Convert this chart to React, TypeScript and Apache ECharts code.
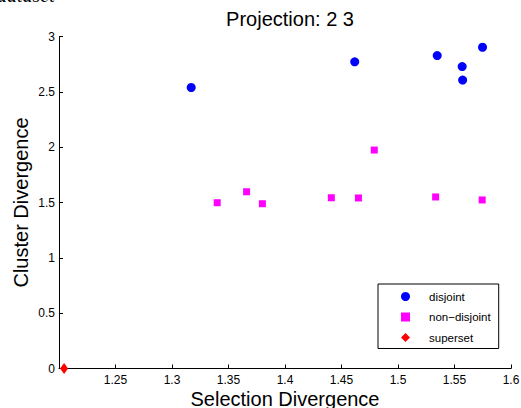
import React, { useEffect, useRef } from "react";
import * as echarts from "echarts";

const disjointX = [1.317, 1.4617, 1.5347, 1.5568, 1.5572, 1.5748];
const disjointY = [2.539, 2.771, 2.828, 2.728, 2.606, 2.903];

const nonDisjointX = [1.340, 1.366, 1.380, 1.441, 1.465, 1.479, 1.5333, 1.5745];
const nonDisjointY = [1.498, 1.597, 1.489, 1.543, 1.541, 1.974, 1.550, 1.523];

const supersetX = [1.2045];
const supersetY = [0];

const seriesNames = ["disjoint", "non\u2212disjoint", "superset"];
const xTicks = { min: 1.2, max: 1.6, interval: 0.05 };
const yTicks = { min: 0, max: 3, interval: 0.5 };

const zip = (xs: number[], ys: number[]) => xs.map((x, i) => [x, ys[i]]);

export default function App() {
  const ref = useRef<HTMLDivElement>(null);
  useEffect(() => {
    document.body.style.margin = "0";
    const chart = echarts.init(ref.current!, null, { renderer: "svg" });
    const font = "Liberation Sans, Arial, sans-serif";
    chart.setOption({
      animation: false,
      backgroundColor: "#ffffff",
      textStyle: { fontFamily: font },
      title: {
        text: "Projection: 2 3",
        left: 285,
        textAlign: "center",
        top: 4,
        textStyle: { fontSize: 20, fontWeight: "normal", color: "#000", fontFamily: font },
      },
      graphic: [
        {
          type: "text",
          left: -3,
          top: -15,
          style: {
            text: "dataset",
            font: "italic 20px 'Liberation Serif', serif",
            fill: "#000",
          },
        },
      ],
      grid: { left: 59, right: 10, top: 36.5, bottom: 39.5, containLabel: false, outerBoundsMode: "none" },
      xAxis: {
        type: "value",
        min: xTicks.min,
        max: xTicks.max,
        interval: xTicks.interval,
        name: "Selection Divergence",
        nameLocation: "middle",
        nameGap: 20,
        nameMoveOverlap: false,
        nameTextStyle: { fontSize: 20, color: "#000", fontFamily: font },
        axisLine: { show: true, lineStyle: { color: "#000", width: 1 } },
        axisTick: { show: true, inside: true, length: 4, lineStyle: { color: "#000" } },
        axisLabel: {
          fontSize: 12,
          lineHeight: 12,
          color: "#000",
          margin: 5,
          fontFamily: font,
          formatter: (v: number) => (Math.abs(v - 1.2) < 1e-9 ? "" : String(+v.toFixed(2))),
        },
        splitLine: { show: false },
      },
      yAxis: {
        type: "value",
        min: yTicks.min,
        max: yTicks.max,
        interval: yTicks.interval,
        name: "Cluster Divergence",
        nameLocation: "middle",
        nameGap: 28,
        nameMoveOverlap: false,
        nameTextStyle: { fontSize: 20, color: "#000", fontFamily: font },
        axisLine: { show: true, lineStyle: { color: "#000", width: 1 } },
        axisTick: { show: true, inside: true, length: 4, lineStyle: { color: "#000" } },
        axisLabel: { fontSize: 12, color: "#000", margin: 4, fontFamily: font },
        splitLine: { show: false },
      },
      legend: {
        orient: "vertical",
        left: 378,
        top: 284,
        width: 122,
        padding: [6.5, 8, 5, 23],
        itemWidth: 9,
        itemHeight: 9,
        itemGap: 8.5,
        borderColor: "#000",
        borderWidth: 1,
        backgroundColor: "#fff",
        textStyle: { fontSize: 11.5, color: "#000", fontFamily: font, padding: [0, 0, 0, 14] },
        data: [
          { name: seriesNames[0], icon: "circle" },
          { name: seriesNames[1], icon: "rect" },
          { name: seriesNames[2], icon: "diamond" },
        ],
      },
      series: [
        {
          name: seriesNames[0],
          type: "scatter",
          symbol: "circle",
          symbolSize: 9,
          itemStyle: { color: "#0000ff", opacity: 1 },
          data: zip(disjointX, disjointY),
        },
        {
          name: seriesNames[1],
          type: "scatter",
          symbol: "rect",
          symbolSize: 7,
          itemStyle: { color: "#ff00ff", opacity: 1 },
          data: zip(nonDisjointX, nonDisjointY),
        },
        {
          name: seriesNames[2],
          type: "scatter",
          symbol: "diamond",
          symbolSize: [8, 11],
          clip: false,
          itemStyle: { color: "#ff0000", opacity: 1 },
          data: zip(supersetX, supersetY),
        },
      ],
    });
    return () => chart.dispose();
  }, []);
  return <div ref={ref} style={{ position: "fixed", left: 0, top: 0, width: 521, height: 408 }} />;
}
